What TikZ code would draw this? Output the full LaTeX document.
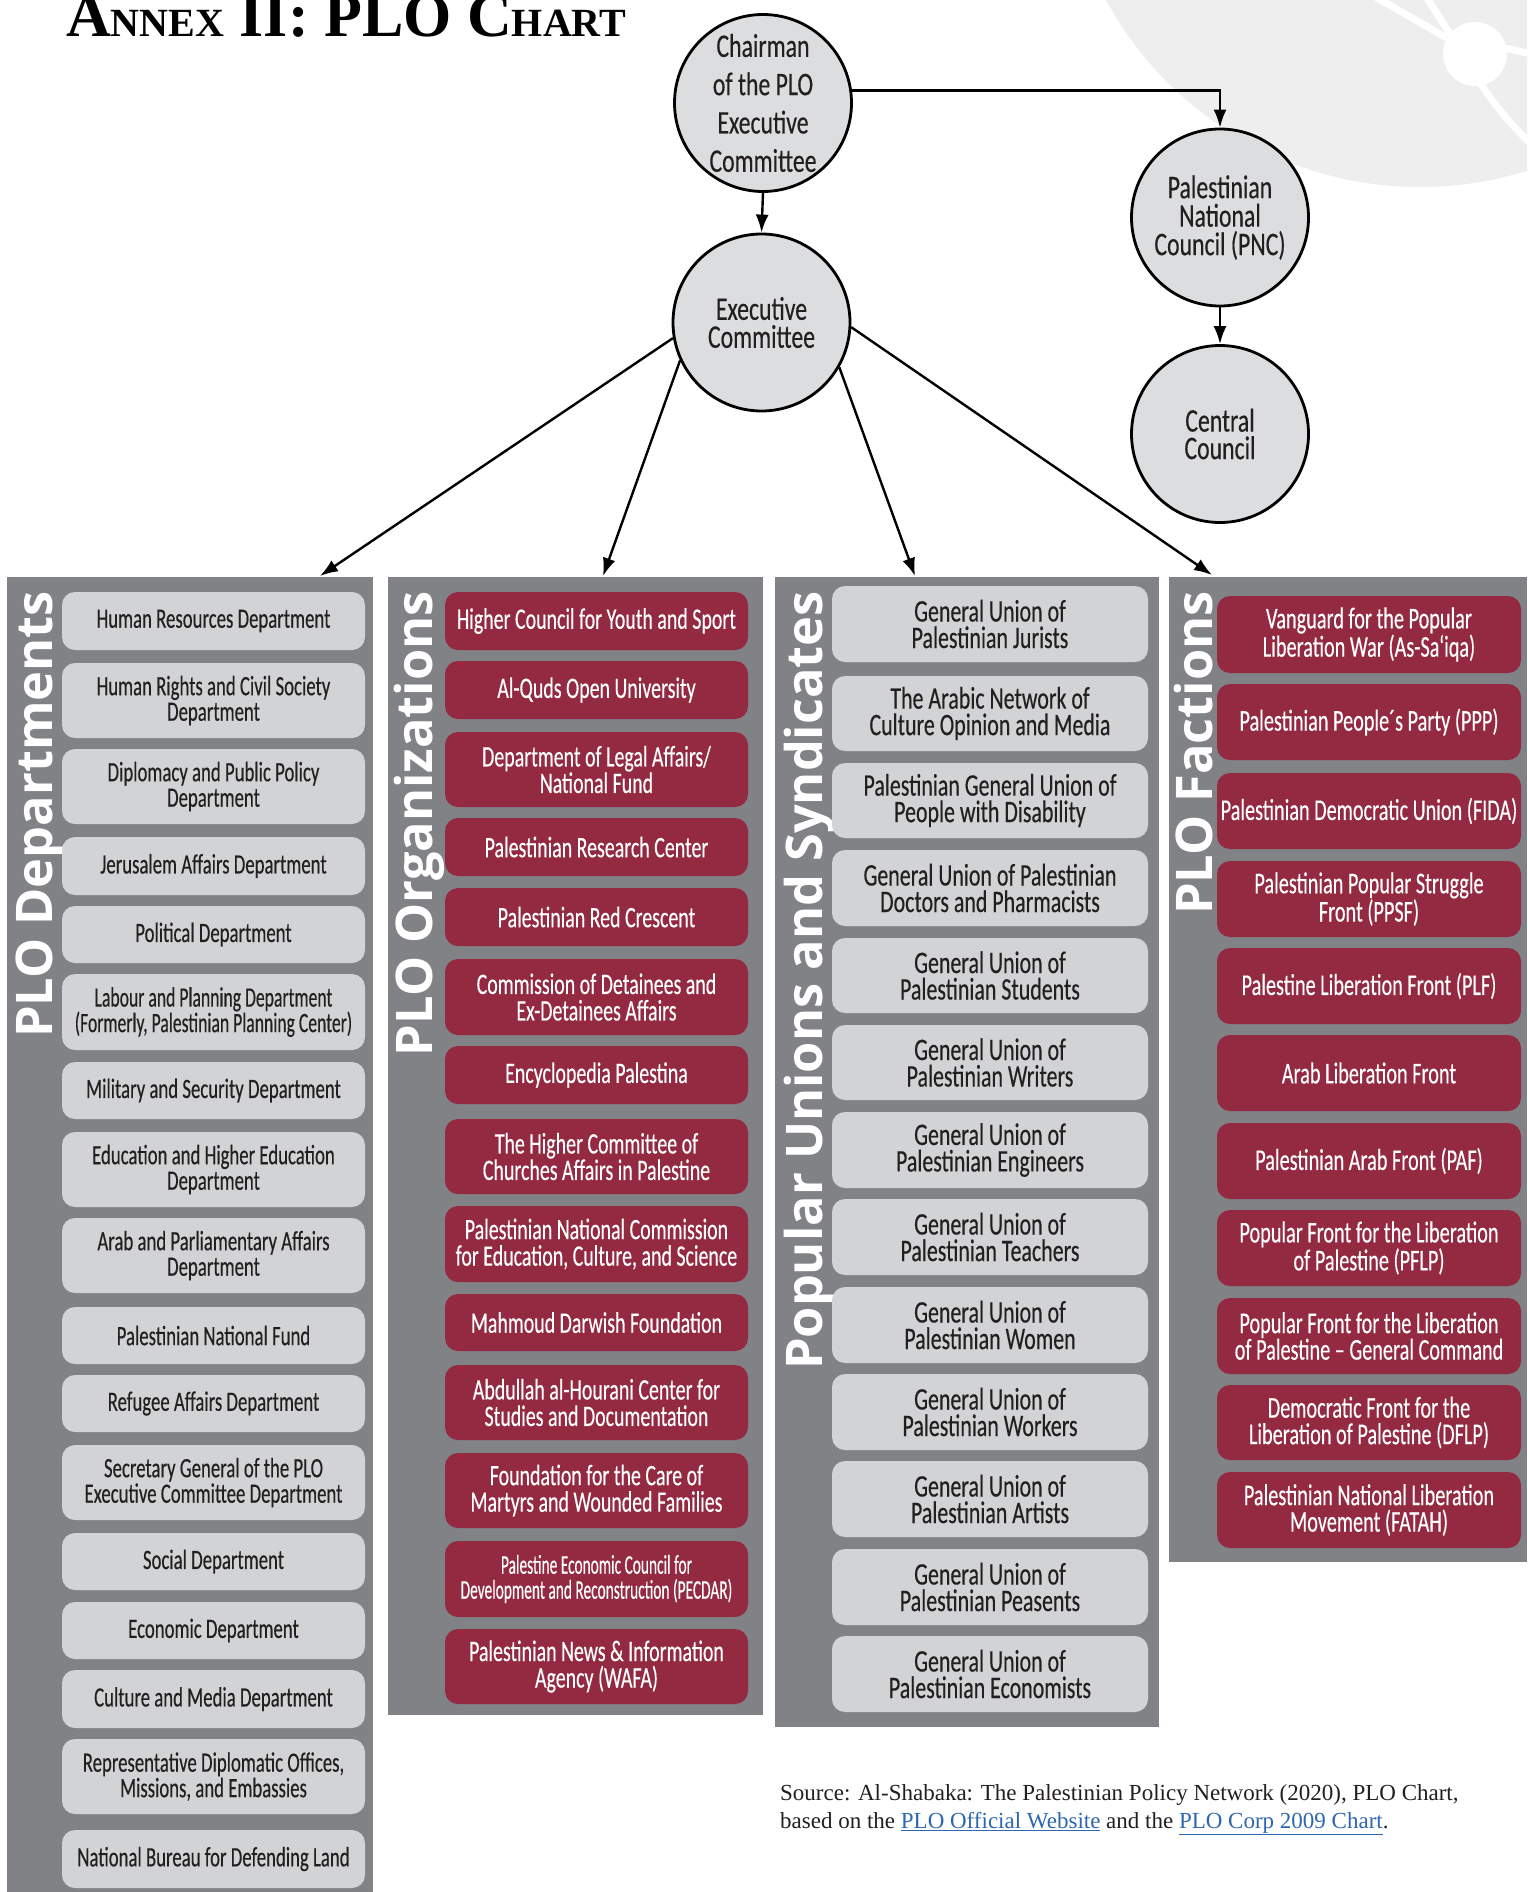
\documentclass[tikz,border=0pt]{standalone}
\usepackage{fontspec}
\usetikzlibrary{arrows.meta}
\setmainfont{Carlito}
\newfontfamily\boxfam{Carlito}[FakeStretch=0.67,FakeBold=0.3]
\newfontfamily\boxfamB{Carlito}[FakeStretch=0.63,FakeBold=0.3]
\newfontfamily\boxfamC{Carlito}[FakeStretch=0.70,FakeBold=0.3]
\newfontfamily\circfam{Carlito}[FakeStretch=0.72,FakeBold=0.3]
\newfontfamily\narrowfam{Carlito}[FakeStretch=0.57,FakeBold=0.3]
\newfontfamily\hdrfam{Open Sans}
\newfontfamily\seriffam{Liberation Serif}
\definecolor{panelgray}{HTML}{808285}
\definecolor{boxgray}{HTML}{D1D3D4}
\definecolor{boxred}{HTML}{932A41}
\definecolor{circgray}{HTML}{DCDDDE}
\definecolor{decogray}{HTML}{EEEEEF}
\definecolor{textdark}{HTML}{231F20}
\definecolor{linkblue}{HTML}{2E67B1}
\newcommand\boxfont{\boxfam\fontsize{28}{25.5}\selectfont}
\newcommand\smc[1]{{\fontsize{40}{40}\selectfont #1}}
\newcommand\bx[7]{\node[#1, minimum width={#4-#3}, minimum height={#6-#5}] (#2) at ({(#3+#4)/2},{-(#5+#6)/2}) {#7};}
\tikzset{
  gbox/.style={rectangle, rounded corners=13pt, fill=boxgray, text=textdark, inner sep=0pt, align=center, font=\boxfont},
  rbox/.style={gbox, fill=boxred, text=white},
  obox/.style={rbox, font=\boxfam\fontsize{29.7}{26.5}\selectfont},
  ubox/.style={gbox, font=\boxfamC\fontsize{31.3}{26.5}\selectfont},
  fbox/.style={rbox, font=\boxfam\fontsize{30.2}{26.5}\selectfont},
  circ/.style={circle, draw=black, line width=2.8pt, fill=circgray, minimum size=177pt, inner sep=0pt, align=center, text=textdark},
  conn/.style={line width=2.4pt, -{Latex[length=18pt,width=13pt]}},
  hdr/.style={rotate=90, anchor=base east, text=white, inner sep=0pt, font=\hdrfam\bfseries\fontsize{50.5}{50.5}\selectfont},
  deco/.style={white, line width=7pt},
}
\begin{document}
\begin{tikzpicture}[x=1pt,y=1pt]
\useasboundingbox (0,0) rectangle (1527,-1892);
\fill[white] (0,0) rectangle (1527,-1892);
% background logo fragment
\begin{scope}
\clip (0,0) rectangle (1527,-1892);
\fill[decogray] (1420,170) circle[radius=357];
\draw[deco] (1372,5) -- (1447,-38);
\draw[deco] (1425,5) -- (1450,-34);
\draw[deco] (1500,-47) -- (1540,-56);
\draw[deco] (1478,-80) .. controls (1495,-105) and (1510,-125) .. (1540,-152);
\fill[white] (1475,-54) circle[radius=32];
\end{scope}
% title
\node[anchor=base west, inner sep=0pt, font=\seriffam\bfseries\fontsize{62}{62}\selectfont] (title) at (66,-37) {A\smc{NNEX} II: PLO C\smc{HART}};
% circles
\node[circ, font=\circfam\fontsize{33}{38.3}\selectfont] (chair) at (763,-103) {Chairman\\of the PLO\\Executive\\Committee};
\node[circ, font=\circfam\fontsize{33}{28}\selectfont] (exec) at (761.5,-322.5) {Executive\\Committee};
\node[circ, font=\circfam\fontsize{33}{28.5}\selectfont] (pnc) at (1220,-217.5) {Palestinian\\National\\Council (PNC)};
\node[circ, font=\circfam\fontsize{33}{27.5}\selectfont] (cc) at (1220,-434) {Central\\Council};
\draw[conn] (chair.8) -| (pnc.north);
\draw[conn] (pnc.south) -- (cc.north);
\draw[conn] (chair.south) -- (exec.north);
% panels
\fill[panelgray] (7,-577) rectangle (373,-1892);
\fill[panelgray] (388,-577) rectangle (763,-1715);
\fill[panelgray] (775,-577) rectangle (1159,-1727);
\fill[panelgray] (1169,-577) rectangle (1527,-1562);
\coordinate (t1) at (320,-576);
\coordinate (t2) at (603,-576);
\coordinate (t3) at (915,-576);
\coordinate (t4) at (1212,-575);
\draw[conn] (exec.190) -- (t1);
\draw[conn] (exec.205) -- (t2);
\draw[conn] (exec.330) -- (t3);
\draw[conn] (exec.357) -- (t4);
% headers
\node[hdr] (h1) at (52,-591) {PLO Departments};
\node[hdr] (h2) at (432,-591) {PLO Organizations};
\node[hdr] (h3) at (822,-591) {Popular Unions and Syndicates};
\node[hdr] (h4) at (1212,-591) {PLO Factions};
% column 1
\bx{gbox}{d1}{62}{365}{592}{650}{Human Resources Department}
\bx{gbox}{d2}{62}{365}{663}{738}{Human Rights and Civil Society\\Department}
\bx{gbox}{d3}{62}{365}{749}{824}{Diplomacy and Public Policy\\Department}
\bx{gbox}{d4}{62}{365}{837}{895}{Jerusalem Affairs Department}
\bx{gbox}{d5}{62}{365}{906}{963}{Political Department}
\bx{gbox, font=\boxfamB\fontsize{28}{25.5}\selectfont}{d6}{62}{365}{974}{1050}{Labour and Planning Department\\(Formerly, Palestinian Planning Center)}
\bx{gbox}{d7}{62}{365}{1062}{1119}{Military and Security Department}
\bx{gbox}{d8}{62}{365}{1132}{1207}{Education and Higher Education\\Department}
\bx{gbox}{d9}{62}{365}{1218}{1293}{Arab and Parliamentary Affairs\\Department}
\bx{gbox}{d10}{62}{365}{1307}{1364}{Palestinian National Fund}
\bx{gbox}{d11}{62}{365}{1375}{1432}{Refugee Affairs Department}
\bx{gbox}{d12}{62}{365}{1445}{1520}{Secretary General of the PLO\\Executive Committee Department}
\bx{gbox}{d13}{62}{365}{1533}{1590}{Social Department}
\bx{gbox}{d14}{62}{365}{1602}{1659}{Economic Department}
\bx{gbox}{d15}{62}{365}{1670}{1728}{Culture and Media Department}
\bx{gbox}{d16}{62}{365}{1739}{1814}{Representative Diplomatic Offices,\\Missions, and Embassies}
\bx{gbox}{d17}{62}{365}{1830}{1888}{National Bureau for Defending Land}
% column 2
\bx{obox}{o1}{445}{748}{592}{650}{Higher Council for Youth and Sport}
\bx{obox}{o2}{445}{748}{661}{719}{Al-Quds Open University}
\bx{obox}{o3}{445}{748}{732}{807}{Department of Legal Affairs/\\National Fund}
\bx{obox}{o4}{445}{748}{818}{876}{Palestinian Research Center}
\bx{obox}{o5}{445}{748}{888}{946}{Palestinian Red Crescent}
\bx{obox}{o6}{445}{748}{959}{1035}{Commission of Detainees and\\Ex-Detainees Affairs}
\bx{obox}{o7}{445}{748}{1046}{1104}{Encyclopedia Palestina}
\bx{obox}{o8}{445}{748}{1119}{1194}{The Higher Committee of\\Churches Affairs in Palestine}
\bx{obox}{o9}{445}{748}{1206}{1282}{Palestinian National Commission\\for Education, Culture, and Science}
\bx{obox}{o10}{445}{748}{1294}{1351}{Mahmoud Darwish Foundation}
\bx{obox}{o11}{445}{748}{1365}{1440}{Abdullah al-Hourani Center for\\Studies and Documentation}
\bx{obox}{o12}{445}{748}{1453}{1528}{Foundation for the Care of\\Martyrs and Wounded Families}
\bx{rbox, font=\narrowfam\fontsize{27}{25}\selectfont}{o13}{445}{748}{1541}{1617}{Palestine Economic Council for\\Development and Reconstruction (PECDAR)}
\bx{obox}{o14}{445}{748}{1629}{1704}{Palestinian News \& Information\\Agency (WAFA)}
% column 3
\bx{ubox}{u1}{832}{1148}{586}{662}{General Union of\\Palestinian Jurists}
\bx{ubox}{u2}{832}{1148}{676}{751}{The Arabic Network of\\Culture Opinion and Media}
\bx{ubox}{u3}{832}{1148}{763}{838}{Palestinian General Union of\\People with Disability}
\bx{ubox}{u4}{832}{1148}{850}{926}{General Union of Palestinian\\Doctors and Pharmacists}
\bx{ubox}{u5}{832}{1148}{938}{1013}{General Union of\\Palestinian Students}
\bx{ubox}{u6}{832}{1148}{1025}{1100}{General Union of\\Palestinian Writers}
\bx{ubox}{u7}{832}{1148}{1112}{1188}{General Union of\\Palestinian Engineers}
\bx{ubox}{u8}{832}{1148}{1199}{1275}{General Union of\\Palestinian Teachers}
\bx{ubox}{u9}{832}{1148}{1287}{1363}{General Union of\\Palestinian Women}
\bx{ubox}{u10}{832}{1148}{1374}{1450}{General Union of\\Palestinian Workers}
\bx{ubox}{u11}{832}{1148}{1461}{1537}{General Union of\\Palestinian Artists}
\bx{ubox}{u12}{832}{1148}{1549}{1625}{General Union of\\Palestinian Peasents}
\bx{ubox}{u13}{832}{1148}{1636}{1712}{General Union of\\Palestinian Economists}
% column 4
\bx{fbox}{f1}{1217}{1521}{596}{673}{Vanguard for the Popular\\Liberation War (As-Sa‘iqa)}
\bx{fbox}{f2}{1217}{1521}{684}{760}{Palestinian People´s Party (PPP)}
\bx{fbox}{f3}{1217}{1521}{773}{849}{Palestinian Democratic Union (FIDA)}
\bx{fbox}{f4}{1217}{1521}{861}{937}{Palestinian Popular Struggle\\Front (PPSF)}
\bx{fbox}{f5}{1217}{1521}{948}{1024}{Palestine Liberation Front (PLF)}
\bx{fbox}{f6}{1217}{1521}{1035}{1111}{Arab Liberation Front}
\bx{fbox}{f7}{1217}{1521}{1123}{1199}{Palestinian Arab Front (PAF)}
\bx{fbox}{f8}{1217}{1521}{1210}{1286}{Popular Front for the Liberation\\of Palestine (PFLP)}
\bx{fbox}{f9}{1217}{1521}{1298}{1374}{Popular Front for the Liberation\\of Palestine – General Command}
\bx{fbox}{f10}{1217}{1521}{1385}{1460}{Democratic Front for the\\Liberation of Palestine (DFLP)}
\bx{fbox}{f11}{1217}{1521}{1472}{1548}{Palestinian National Liberation\\Movement (FATAH)}
% source
\node[anchor=base west, inner sep=0pt, text=textdark, font=\seriffam\fontsize{23}{25}\selectfont] (src1) at (780,-1800) {Source: Al-Shabaka: The Palestinian Policy Network (2020), PLO Chart,};
\node[anchor=base west, inner sep=0pt, text=textdark, font=\seriffam\fontsize{23}{25}\selectfont] (src2) at (780,-1828) {based on the {\color{linkblue}\underline{PLO Official Website}} and the {\color{linkblue}\underline{PLO Corp 2009 Chart}}.};
\end{tikzpicture}
\end{document}
